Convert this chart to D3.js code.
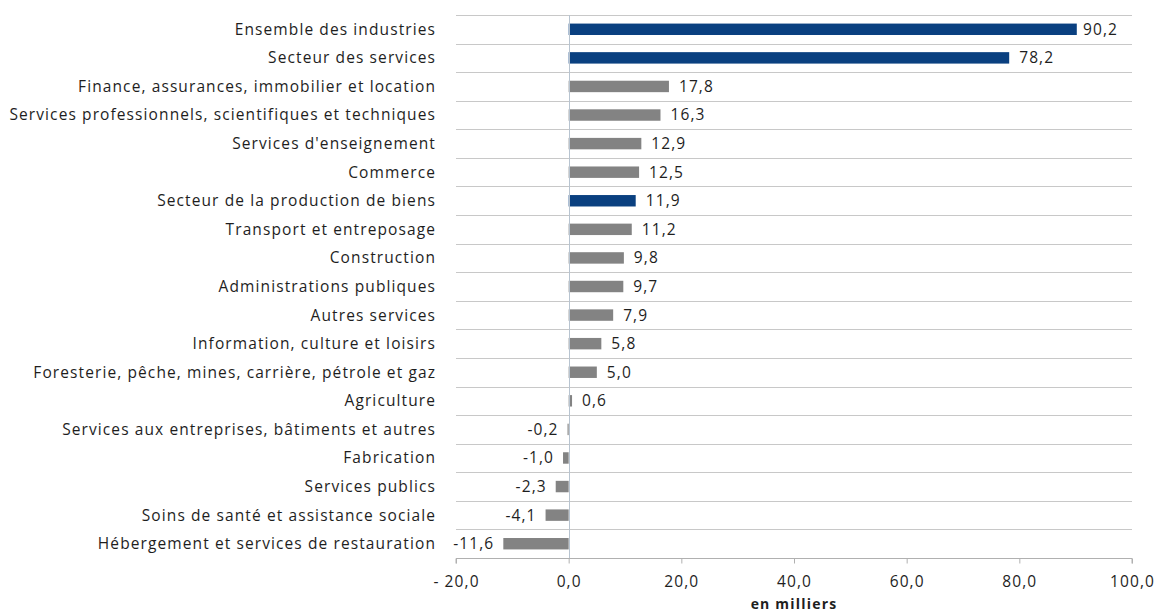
<!DOCTYPE html>
<html>
<head>
<meta charset="utf-8">
<script src="https://cdn.jsdelivr.net/npm/d3@7"></script>
<style>
  html, body { margin: 0; padding: 0; background: #ffffff; }
  svg { display: block; }
  text { font-family: "Open Sans", sans-serif; fill: #1e1e1e; }
</style>
</head>
<body>
<svg id="chart" width="1158" height="612"></svg>
<script>
const categories = [
  "Ensemble des industries",
  "Secteur des services",
  "Finance, assurances, immobilier et location",
  "Services professionnels, scientifiques et techniques",
  "Services d'enseignement",
  "Commerce",
  "Secteur de la production de biens",
  "Transport et entreposage",
  "Construction",
  "Administrations publiques",
  "Autres services",
  "Information, culture et loisirs",
  "Foresterie, pêche, mines, carrière, pétrole et gaz",
  "Agriculture",
  "Services aux entreprises, bâtiments et autres",
  "Fabrication",
  "Services publics",
  "Soins de santé et assistance sociale",
  "Hébergement et services de restauration"
];
const values = [90.2, 78.2, 17.8, 16.3, 12.9, 12.5, 11.9, 11.2, 9.8, 9.7, 7.9, 5.8, 5.0, 0.6, -0.2, -1.0, -2.3, -4.1, -11.6];
const aggregates = ["Ensemble des industries", "Secteur des services", "Secteur de la production de biens"];
const tickValues = [-20, 0, 20, 40, 60, 80, 100];
const axisTitle = "en milliers";

(function () {
const svg = d3.select("#chart");
const mL = 456, mR = 1132, mT = 15, mB = 558;

const x = d3.scaleLinear().domain([-20, 100]).range([mL, mR]);
const y = d3.scaleBand().domain(categories).range([mT, mB]).paddingInner(0.6).paddingOuter(0.3);
const yb = d3.scaleBand().domain(categories).range([mT, mB]);

const fmt = v => {
  const s = d3.format(".1f")(Math.abs(v)).replace(".", ",");
  return v < 0 ? "-" + s : s;
};
const tickFmt = v => {
  const s = d3.format(".1f")(Math.abs(v)).replace(".", ",");
  return v < 0 ? "- " + s : s;
};

// horizontal separator lines
const seps = categories.map(c => yb(c));
svg.append("g").selectAll("line").data(seps).join("line")
  .attr("x1", mL).attr("x2", mR)
  .attr("y1", d => Math.round(d) + 0.5).attr("y2", d => Math.round(d) + 0.5)
  .attr("stroke", "#c8c8c8").attr("stroke-width", 1);

// bars
svg.append("g").selectAll("rect").data(categories).join("rect")
  .attr("x", (d, i) => x(Math.min(0, values[i])))
  .attr("y", d => y(d))
  .attr("width", (d, i) => Math.abs(x(values[i]) - x(0)))
  .attr("height", y.bandwidth())
  .attr("fill", d => aggregates.includes(d) ? "#0a4080" : "#838383");

// zero line
svg.append("line")
  .attr("x1", Math.round(x(0)) + 0.5).attr("x2", Math.round(x(0)) + 0.5)
  .attr("y1", mT).attr("y2", mB)
  .attr("stroke", "#b8c4d0").attr("stroke-width", 1);

// x axis
const xAxis = d3.axisBottom(x).tickValues(tickValues).tickFormat(tickFmt).tickSize(5).tickPadding(12);
const gx = svg.append("g").attr("transform", `translate(0,${mB + 0.5})`).call(xAxis);
gx.select(".domain").attr("stroke", "#b0b0b0").attr("d", `M${mL},5V0H${mR}V5`);
gx.selectAll(".tick line").attr("stroke", "#b0b0b0");
gx.selectAll(".tick text").attr("font-size", 15.5).attr("letter-spacing", "1.1px")
  .attr("font-family", "'Open Sans', sans-serif").attr("fill", "#1e1e1e");

// category labels
svg.append("g").selectAll("text").data(categories).join("text")
  .attr("x", 436)
  .attr("y", d => yb(d) + yb.bandwidth() / 2)
  .attr("dy", "0.35em")
  .attr("text-anchor", "end")
  .attr("font-size", 15.5)
  .attr("letter-spacing", "1.1px")
  .text(d => d);

// value labels
const vl = svg.append("g").selectAll("text").data(categories).join("text")
  .attr("x", (d, i) => values[i] >= 0 ? x(values[i]) + 10 : x(values[i]) - 9)
  .attr("y", d => yb(d) + yb.bandwidth() / 2)
  .attr("dy", "0.35em")
  .attr("text-anchor", (d, i) => values[i] >= 0 ? "start" : "end")
  .attr("font-size", 15.5)
  .attr("letter-spacing", "1.1px")
  .text((d, i) => fmt(values[i]));
// keep labels inside the plot area, as the original does
vl.each(function () {
  const el = d3.select(this);
  if (el.attr("text-anchor") === "start") {
    const w = this.getComputedTextLength();
    const xs = +el.attr("x");
    if (xs + w > mR - 14) el.attr("x", Math.max(xs - 6, mR - 14 - w));
  }
});

// axis title
svg.append("text")
  .attr("x", (mL + mR) / 2)
  .attr("y", 609)
  .attr("text-anchor", "middle")
  .attr("font-size", 14)
  .attr("font-weight", "bold")
  .attr("letter-spacing", "1.2px")
  .text(axisTitle);
})();
</script>
</body>
</html>
